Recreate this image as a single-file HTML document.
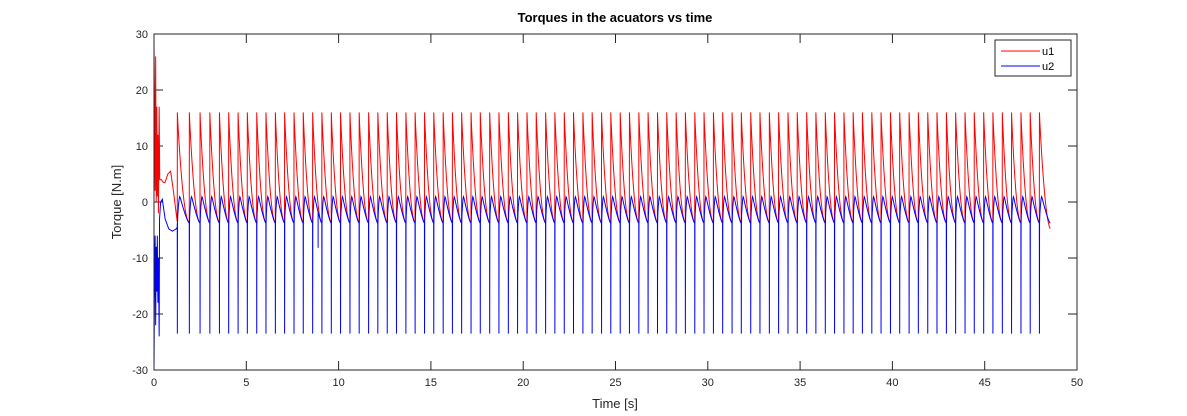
<!DOCTYPE html>
<html><head><meta charset="utf-8"><style>
body{margin:0;background:#fff;}
svg{display:block;font-family:"Liberation Sans",sans-serif;}
</style></head><body>
<svg id="chart" width="1187" height="416" viewBox="0 0 1187 416">
<rect x="0" y="0" width="1187" height="416" fill="#fff"/>
<text x="615" y="22" text-anchor="middle" font-size="13" font-weight="bold" fill="#000">Torques in the acuators vs time</text>
<text x="615" y="408" text-anchor="middle" font-size="13" fill="#262626">Time [s]</text>
<text transform="translate(121,202) rotate(-90)" text-anchor="middle" font-size="13" fill="#262626">Torque [N.m]</text>
<g id="ticks"></g>
<g id="plot"></g>
<rect x="154" y="34" width="923" height="336" fill="none" stroke="#262626" stroke-width="1"/>
<g>
<rect x="995" y="40" width="76" height="36" fill="#fff" stroke="#262626" stroke-width="1"/>
<g><line x1="1001" y1="51" x2="1040" y2="51" stroke="#f00" stroke-width="1"/><text x="1042" y="55" font-size="11" fill="#000">u1</text></g>
<g><line x1="1001" y1="66" x2="1040" y2="66" stroke="#00f" stroke-width="1"/><text x="1042" y="70" font-size="11" fill="#000">u2</text></g>
</g>
</svg>
<script>
const xTicks=[0,5,10,15,20,25,30,35,40,45,50];
const yTicks=[-30,-20,-10,0,10,20,30];
const spikeTimes=[1.26,1.91,2.49,3.02,3.54,4.04,4.55,5.05,5.56,6.06,6.57,7.07,7.58,8.08,8.59,9.09,9.60,10.10,10.61,11.11,11.62,12.12,12.63,13.13,13.64,14.14,14.65,15.15,15.66,16.16,16.66,17.17,17.67,18.18,18.68,19.19,19.69,20.20,20.70,21.21,21.71,22.22,22.72,23.23,23.73,24.24,24.74,25.25,25.75,26.26,26.76,27.27,27.77,28.28,28.78,29.29,29.79,30.30,30.80,31.31,31.81,32.32,32.82,33.33,33.83,34.34,34.84,35.35,35.85,36.36,36.86,37.37,37.87,38.37,38.88,39.38,39.89,40.39,40.90,41.40,41.91,42.41,42.92,43.42,43.93,44.43,44.94,45.44,45.95,46.45,46.96,47.46,47.96];
const endTime=[48.55];
const u1Peak=[16], u1Min=[-3.6], u2Low=[-23.5], u2Peak=[1], u2Min=[-3.8];
const u1Transient=[[0,28],[0.03,18],[0.06,2],[0.09,26],[0.12,0],[0.15,17],[0.18,1],[0.21,12],[0.24,-2],[0.28,17],[0.31,4],[0.4,4],[0.5,3.5],[0.6,3.5],[0.75,5],[0.9,5.5],[1.05,2],[1.2,-2],[1.26,-3.5]];
const u2Transient=[[0,-30],[0.03,-14],[0.06,-6],[0.09,-22],[0.12,-8],[0.15,-16],[0.18,-6],[0.21,-18],[0.24,-10],[0.28,-24],[0.3,-3],[0.36,0],[0.45,0.5],[0.6,-3],[0.8,-4.8],[1.0,-5.2],[1.2,-4.8],[1.26,-4.5]];
const glitchTime=[8.9], glitchValue=[-8.2];

const X=t=>154+(t-0)/(50-0)*923;
const Y=v=>370-(v+30)/60*336;
const NS='http://www.w3.org/2000/svg';
const tg=document.getElementById('ticks');
xTicks.forEach(t=>{
  const l=document.createElementNS(NS,'path');
  
  
  l.setAttribute('d',`M${X(t)},370v-9M${X(t)},34v9`);l.setAttribute('stroke','#262626');tg.appendChild(l);
  const s=document.createElementNS(NS,'text');
  
  
  s.setAttribute('x',X(t));s.setAttribute('y',386);s.setAttribute('text-anchor','middle');s.setAttribute('font-size','11');s.setAttribute('fill','#262626');s.textContent=t;tg.appendChild(s);
});
yTicks.forEach(v=>{
  const l=document.createElementNS(NS,'path');
  
  
  l.setAttribute('d',`M154,${Y(v)}h9M1077,${Y(v)}h-9`);l.setAttribute('stroke','#262626');tg.appendChild(l);
  const s=document.createElementNS(NS,'text');
  
  
  s.setAttribute('x',148);s.setAttribute('y',Y(v)+4);s.setAttribute('text-anchor','end');s.setAttribute('font-size','11');s.setAttribute('fill','#262626');s.textContent=v;tg.appendChild(s);
});
let p1=u1Transient.map(([t,v])=>[t,v]);
let p2=u2Transient.map(([t,v])=>[t,v]);
for(let i=0;i<spikeTimes.length;i++){
  const t0=spikeTimes[i], t1=i+1<spikeTimes.length?spikeTimes[i+1]:endTime[0];
  const T=t1-t0;
  const last=i+1>=spikeTimes.length;
  p1.push([t0,u1Min[0]]);p1.push([t0+0.005,u1Peak[0]]);
  p2.push([t0,u2Min[0]]);p2.push([t0+0.005,u2Low[0]]);p2.push([t0+0.012,u2Min[0]]);
  for(let k=1;k<=20;k++){
    const p=k/20, t=t0+p*T;
    const pp=last?p*0.95:p;
    p1.push([t,u1Min[0]+(u1Peak[0]-u1Min[0])*Math.pow(1-pp,2)+(last?-1.2*p:0)]);
    let v2;
    if(p<0.22){v2=u2Min[0]+(u2Peak[0]-u2Min[0])*Math.sin(p/0.22*Math.PI/2);}
    else{v2=u2Min[0]+(u2Peak[0]-u2Min[0])*Math.pow(1-(p-0.22)/0.78,1.3);}
    p2.push([t,v2]);
    if(!last&&Math.abs(t-glitchTime[0])<T/40){p2.push([t,glitchValue[0]]);p2.push([t,v2]);}
  }
}
const pl=document.getElementById('plot');
function line(pts,color,name){
  const e=document.createElementNS(NS,'polyline');
  
  
  e.setAttribute('points',pts.map(([t,v])=>X(t).toFixed(2)+','+Y(v).toFixed(2)).join(' '));
  e.setAttribute('fill','none');e.setAttribute('stroke',color);e.setAttribute('stroke-width','1');
  pl.appendChild(e);
}
line(p1,'#f00','series-u1');
line(p2,'#00f','series-u2');
</script>
</body></html>
